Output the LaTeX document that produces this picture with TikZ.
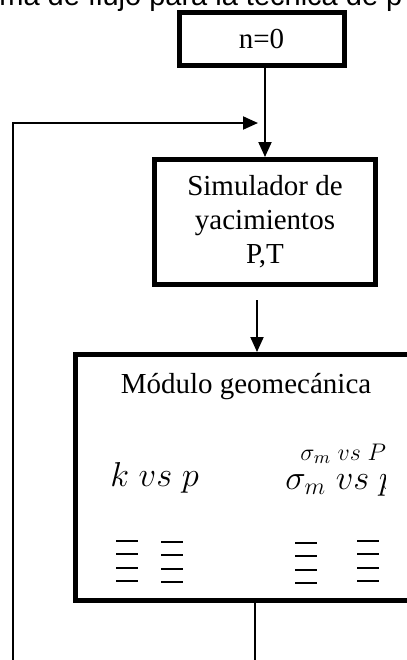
\documentclass[tikz,border=0pt]{standalone}
\usepackage{fontspec}
\setmainfont{Liberation Serif}
\newfontfamily\titlefont{Liberation Sans}
\usetikzlibrary{arrows.meta}

\begin{document}
\begin{tikzpicture}[
  x=0.5pt, y=-0.5pt,
  >={Triangle[length=7.5pt,width=6.5pt]},
  box/.style={draw, rectangle, line width=2.5pt, inner sep=0pt, align=center,
    font=\fontsize{14.5}{17}\selectfont},
  lab/.style={inner sep=0pt, font=\fontsize{14.5}{17}\selectfont},
  plot/.style={inner sep=0pt, font=\fontsize{17.28}{20}\selectfont},
  flow/.style={line width=1pt},
  bar/.style={line width=0.9pt}
]
  \clip (0,0) rectangle (407,660);

  \node[anchor=base west, inner sep=0pt, font=\titlefont\fontsize{14.5}{17}\selectfont]
    (title) at (-1,5) {ma de flujo para la técnica de p};

  \node[box, minimum width=82.5pt, minimum height=26.5pt] (start) at (261.5,38.5) {n=0};
  \node[box, minimum width=110.5pt, minimum height=62.5pt] (sim) at (265,222)
    {Simulador de\\yacimientos\\P,T};
  \node[box, minimum width=172.25pt, minimum height=122.75pt] (geo) at (247.75,477.25) {};

  \node[lab, anchor=base] (geotitle) at (246,393) {Módulo geomecánica};
  \node[plot, anchor=base west] (kp) at (110,486) {$k\;vs\;p$};
  \node[plot, anchor=base west, font=\fontsize{13}{15}\selectfont]
    (smP) at (300,460) {$\sigma_m\;vs\;P$};
  \begin{scope}
    \clip (0,0) rectangle (385,660);
    \node[plot, anchor=base west] (smp) at (285,489) {$\sigma_m\;vs\;p$};
  \end{scope}

  % short strokes under the plots
  \foreach \x/\y in {116/541, 161/542, 295/543, 357/541}
    \foreach \k in {0,...,3}
      \draw[bar] (\x,\y+13.3*\k) -- ++(21.5,0);

  \coordinate (out) at (255,662);
  \coordinate (back) at (13,662);
  \coordinate (join) at (258,123);

  \draw[flow,->] (start.south -| sim.north) -- (sim.north);
  \draw[flow,->,shorten <=6.5pt] ([xshift=-4pt]sim.south) -- ([xshift=-4pt]sim.south |- geo.north);
  \draw[flow] (geo.south -| out) -- (out);
  \draw[flow,->] (back) |- (join);
\end{tikzpicture}
\end{document}
